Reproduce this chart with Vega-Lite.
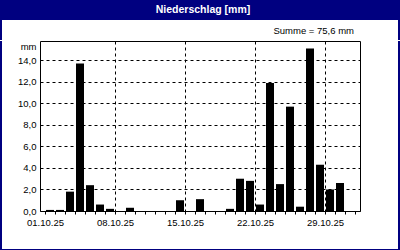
{
  "$schema": "https://vega.github.io/schema/vega-lite/v6.json",
  "background": "white",
  "padding": 0,
  "spacing": 0,
  "config": {
    "view": {"stroke": null},
    "font": "Liberation Sans"
  },
  "vconcat": [
    {
      "width": 400,
      "height": 20,
      "view": {"fill": "#000080", "stroke": null},
      "data": {"values": [{"t": "Niederschlag [mm]"}]},
      "mark": {"type": "text", "color": "white", "fontWeight": "bold", "fontSize": 10.5, "font": "Liberation Sans", "dx": 3, "baseline": "middle", "align": "center"},
      "encoding": {"text": {"field": "t"}}
    },
    {
      "hconcat": [
        {"width": 2, "height": 20, "view": {"fill": "#000080", "stroke": null}, "data": {"values": []}, "mark": "point", "encoding": {}},
        {
          "width": 396, "height": 20,
          "view": {"fill": "white", "stroke": null},
          "title": {"text": "Summe = 75,6 mm", "orient": "bottom", "anchor": "end", "frame": "group", "offset": -14, "dx": -44, "baseline": "top", "fontSize": 9.5, "fontWeight": "normal", "font": "Liberation Sans", "color": "black"},
          "data": {"values": []}, "mark": "point", "encoding": {}
        },
        {"width": 2, "height": 20, "view": {"fill": "#000080", "stroke": null}, "data": {"values": []}, "mark": "point", "encoding": {}}
      ],
      "spacing": 0,
      "bounds": "flush"
    },
    {
      "hconcat": [
        {"width": 2, "height": 208, "view": {"fill": "#000080", "stroke": null}, "data": {"values": []}, "mark": "point", "encoding": {}},
        {
          "width": 320,
          "height": 170,
          "view": {"stroke": "black", "strokeWidth": 1, "fill": "white"},
          "data": {"values": [
            {"date": "2025-10-01T00:00", "mm": 0.1},
            {"date": "2025-10-02T00:00", "mm": 0.1},
            {"date": "2025-10-03T00:00", "mm": 1.8},
            {"date": "2025-10-04T00:00", "mm": 13.7},
            {"date": "2025-10-05T00:00", "mm": 2.4},
            {"date": "2025-10-06T00:00", "mm": 0.6},
            {"date": "2025-10-07T00:00", "mm": 0.2},
            {"date": "2025-10-08T00:00", "mm": 0},
            {"date": "2025-10-09T00:00", "mm": 0.3},
            {"date": "2025-10-10T00:00", "mm": 0},
            {"date": "2025-10-11T00:00", "mm": 0},
            {"date": "2025-10-12T00:00", "mm": 0},
            {"date": "2025-10-13T00:00", "mm": 0},
            {"date": "2025-10-14T00:00", "mm": 1.0},
            {"date": "2025-10-15T00:00", "mm": 0},
            {"date": "2025-10-16T00:00", "mm": 1.1},
            {"date": "2025-10-17T00:00", "mm": 0},
            {"date": "2025-10-18T00:00", "mm": 0},
            {"date": "2025-10-19T00:00", "mm": 0.2},
            {"date": "2025-10-20T00:00", "mm": 3.0},
            {"date": "2025-10-21T00:00", "mm": 2.8},
            {"date": "2025-10-22T00:00", "mm": 0.6},
            {"date": "2025-10-23T00:00", "mm": 11.9},
            {"date": "2025-10-24T00:00", "mm": 2.5},
            {"date": "2025-10-25T00:00", "mm": 9.7},
            {"date": "2025-10-26T00:00", "mm": 0.4},
            {"date": "2025-10-27T00:00", "mm": 15.1},
            {"date": "2025-10-28T00:00", "mm": 4.3},
            {"date": "2025-10-29T00:00", "mm": 2.0},
            {"date": "2025-10-30T00:00", "mm": 2.6},
            {"date": "2025-10-31T00:00", "mm": 0}
          ]},
          "mark": {"type": "bar", "color": "black", "width": 8, "xOffset": 5},
          "encoding": {
            "x": {
              "field": "date",
              "type": "temporal",
              "scale": {"domain": [{"year": 2025, "month": 10, "date": 1}, {"year": 2025, "month": 11, "date": 1}], "nice": false},
              "axis": {
                "title": null,
                "tickCount": {"interval": "day", "step": 1},
                "labelExpr": "month(datum.value) == 9 && indexof([1,8,15,22,29], date(datum.value)) >= 0 ? timeFormat(datum.value, '%d.%m.%y') : ''",
                "labelOverlap": false,
                "labelFlush": false,
                "labelBound": false,
                "labelFont": "Liberation Sans",
                "labelFontSize": 9.5,
                "labelColor": "black",
                "labelPadding": 3,
                "labelDx": -3,
                "tickSize": 3,
                "tickColor": "black",
                "domain": false,
                "grid": true,
                "gridColor": "black",
                "gridDash": [3, 3],
                "gridOpacity": {"condition": {"test": "month(datum.value) == 9 && indexof([8,15,22,29], date(datum.value)) >= 0", "value": 1}, "value": 0}
              }
            },
            "y": {
              "field": "mm",
              "type": "quantitative",
              "scale": {"domain": [0, 15.8], "nice": false},
              "axis": {
                "title": "mm",
                "titleAngle": 0,
                "titleAlign": "right",
                "titleBaseline": "middle",
                "titleX": -4,
                "titleY": 5,
                "titleFont": "Liberation Sans",
                "titleFontSize": 9.5,
                "titleFontWeight": "normal",
                "titleColor": "black",
                "values": [0, 2, 4, 6, 8, 10, 12, 14],
                "labelExpr": "replace(format(datum.value, '.1f'), '.', ',')",
                "labelFont": "Liberation Sans",
                "labelFontSize": 9.5,
                "labelColor": "black",
                "labelPadding": 4,
                "ticks": false,
                "domain": false,
                "grid": true,
                "gridColor": "black",
                "gridDash": [3, 3]
              }
            }
          }
        },
        {"width": 2, "height": 208, "view": {"fill": "#000080", "stroke": null}, "data": {"values": []}, "mark": "point", "encoding": {}}
      ],
      "spacing": 38,
      "bounds": "flush"
    },
    {"width": 400, "height": 2, "view": {"fill": "#000080", "stroke": null}, "data": {"values": []}, "mark": "point", "encoding": {}}
  ]
}
